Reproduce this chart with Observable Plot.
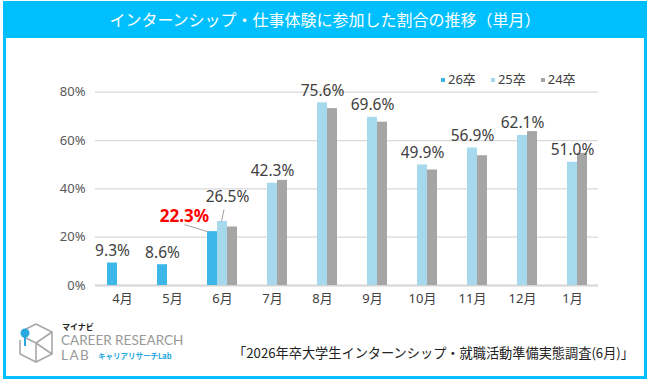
<!DOCTYPE html>
<html><head><meta charset="utf-8">
<script src="https://cdn.jsdelivr.net/npm/d3@7"></script>
<script src="https://cdn.jsdelivr.net/npm/@observablehq/plot@0.6"></script>
<style>
html,body{margin:0;padding:0;background:#fff;}
#wrap{position:relative;width:650px;height:383px;overflow:hidden;font-family:"Noto Sans","Noto Sans CJK JP",sans-serif;background:#fff;}
#frame{position:absolute;left:3px;top:1px;width:644px;height:378px;box-sizing:border-box;border:3px solid #00BFFF;}
#title{position:absolute;left:3px;top:1px;width:644px;height:37px;background:#00BFFF;color:#fff;font-family:"Noto Sans CJK JP",sans-serif;font-size:16px;line-height:37px;text-align:center;}
.layer{position:absolute;left:0;top:40px;}
#legend{position:absolute;top:69px;left:441px;display:flex;gap:15px;font-family:"Noto Sans","Noto Sans CJK JP",sans-serif;font-size:13px;color:#404040;line-height:20px;}
#legend .sw{display:inline-block;width:4px;height:4px;margin-right:3px;vertical-align:middle;position:relative;top:-1px;}
#caption{position:absolute;right:16px;top:343px;font-family:"Noto Sans CJK JP",sans-serif;font-size:13.2px;color:#222;}
.lg{position:absolute;white-space:nowrap;line-height:1;}
</style></head>
<body>
<div id="wrap">
  <div id="frame"></div>
  <div id="title">インターンシップ・仕事体験に参加した割合の推移（単月）</div>
  <div id="grid" class="layer"></div>
  <div id="chart" class="layer"></div>
  <div id="legend"></div>
  <svg style="position:absolute;left:0;top:318px" width="60" height="50">
    <g fill="none" stroke="#a8a8a8" stroke-width="1.6">
      <path d="M36 6 L52 14 L52 36 L36 44 L20 36 L20 22"/>
      <path d="M36 6 L24 12"/>
      <path d="M36 25 L52 14 M36 25 L36 44 M36 25 L22 18"/>
      <path d="M36 25 L52 36"/>
    </g>
    <line x1="25" y1="15" x2="25" y2="28" stroke="#29A8E0" stroke-width="2"/>
    <circle cx="25" cy="15" r="4.5" fill="#29A8E0"/>
  </svg>
  <div class="lg" style="left:62px;top:323px;font-family:'Noto Sans CJK JP';font-weight:bold;font-size:8px;color:#222;">マイナビ</div>
  <div class="lg" style="left:61px;top:334px;font-family:Lato,sans-serif;font-size:13.5px;color:#999;">CAREER RESEARCH</div>
  <div class="lg" style="left:61px;top:349px;font-family:Lato,sans-serif;font-size:13.5px;color:#999;letter-spacing:1.5px;">LAB</div>
  <div class="lg" style="left:98px;top:352px;font-family:'Noto Sans CJK JP';font-weight:bold;font-size:7.5px;color:#29A8E0;">キャリアリサーチLab</div>
  <div id="caption">「2026年卒大学生インターンシップ・就職活動準備実態調査(6月)」</div>
</div>
<script>
const months = ["4月","5月","6月","7月","8月","9月","10月","11月","12月","1月"];
const series = ["26卒","25卒","24卒"];
const v26 = [9.3, 8.6, 22.3, null, null, null, null, null, null, null];
const v25 = [null, null, 26.5, 42.3, 75.6, 69.6, 49.9, 56.9, 62.1, 51.0];
const v24 = [null, null, 24.2, 43.5, 73.2, 67.6, 47.8, 53.7, 63.7, 54.7];
const colors = ["#3DB7E8", "#A6D9EC", "#A5A5A5"];
const yTicks = [0, 20, 40, 60, 80];
const highlightMonth = "6月";

const byS = {"26卒": v26, "25卒": v25, "24卒": v24};
const data = [];
months.forEach((m, i) => series.forEach(s => { if (byS[s][i] != null) data.push({month: m, series: s, value: byS[s][i]}); }));

const groupLabels = [], barLabels = [];
months.forEach((m, i) => {
  if (m === highlightMonth) return;
  if (v25[i] != null) groupLabels.push({month: m, value: v25[i]});
  else if (v26[i] != null) barLabels.push({month: m, series: "26卒", value: v26[i]});
});
const hi = months.indexOf(highlightMonth);
const hi25 = [{month: highlightMonth, series: "25卒", value: v25[hi]}];
const hi26 = [{month: highlightMonth, series: "26卒", value: v26[hi]}];
const fmt = d => d.value.toFixed(1) + "%";

const leaders = [
  {month: highlightMonth, series: "25卒", value: v25[hi], o: [-1, 0, 1.5, -12]},
  {month: highlightMonth, series: "26卒", value: v26[hi], o: [-5, 0, -28, -7]}
];
function shiftRender(index, scales, values, dims, ctx, next) {
  const x1 = Array.from(values.x1), x2 = Array.from(values.x2), y1 = Array.from(values.y1), y2 = Array.from(values.y2);
  for (const i of index) {
    const o = leaders[i].o;
    x1[i] += o[0]; y1[i] += o[1]; x2[i] += o[2]; y2[i] += o[3];
  }
  return next(index, scales, {...values, x1, x2, y1, y2}, dims, ctx);
}

const dims = {width: 650, height: 280, marginTop: 51.7, marginBottom: 35, marginLeft: 95, marginRight: 52};
const baseStyle = {fontFamily: '"Noto Sans","Noto Sans CJK JP",sans-serif', fontSize: "13px", background: "transparent", overflow: "visible"};
const yScale = {domain: [0, 80], ticks: yTicks, tickFormat: d => d + "%", tickSize: 0, tickPadding: 10, label: null};

// background layer: grid and y axis
const grid = Plot.plot({
  ...dims,
  style: {...baseStyle, color: "#595959"},
  x: {axis: null},
  y: yScale,
  marks: [
    Plot.ruleY(yTicks.slice(1), {stroke: "#d9d9d9", strokeWidth: 1.2}),
    Plot.ruleY([0], {stroke: "#d4d4d4", strokeWidth: 2})
  ]
});
document.getElementById("grid").appendChild(grid);

const labelStyle = {fill: "#404040", fontSize: 15.5, lineAnchor: "bottom", textAnchor: "middle"};

const chart = Plot.plot({
  ...dims,
  style: {...baseStyle, color: "#404040"},
  fx: {domain: months, paddingInner: 0.4, paddingOuter: 0.2, label: null, axis: "bottom", tickSize: 0, tickPadding: 8},
  x: {domain: series, padding: 0, axis: null},
  y: {...yScale, axis: null},
  color: {domain: series, range: colors},
  marks: [
    Plot.barY(data, {fx: "month", x: "series", y: "value", fill: "series"}),
    Plot.text(groupLabels, {fx: "month", y: "value", text: fmt, dy: -7, ...labelStyle}),
    Plot.text(barLabels, {fx: "month", x: "series", y: "value", text: fmt, dy: -7, ...labelStyle}),
    Plot.text(hi25, {fx: "month", x: "series", y: "value", text: fmt, dx: 5, dy: -19, ...labelStyle}),
    Plot.text(hi26, {fx: "month", x: "series", y: "value", text: fmt, dx: -28, dy: -10, ...labelStyle, fill: "#FF0000", fontSize: 17, fontWeight: "bold"}),
    Plot.link(leaders, {fx: "month", x1: "series", x2: "series", y1: "value", y2: "value", stroke: "#a0a0a0", strokeWidth: 1, render: shiftRender})
  ]
});
document.getElementById("chart").appendChild(chart);

const legend = document.getElementById("legend");
series.forEach((s, i) => {
  const it = document.createElement("span");
  it.innerHTML = `<span class="sw" style="background:${colors[i]}"></span>${s}`;
  legend.appendChild(it);
});
</script>
</body></html>
